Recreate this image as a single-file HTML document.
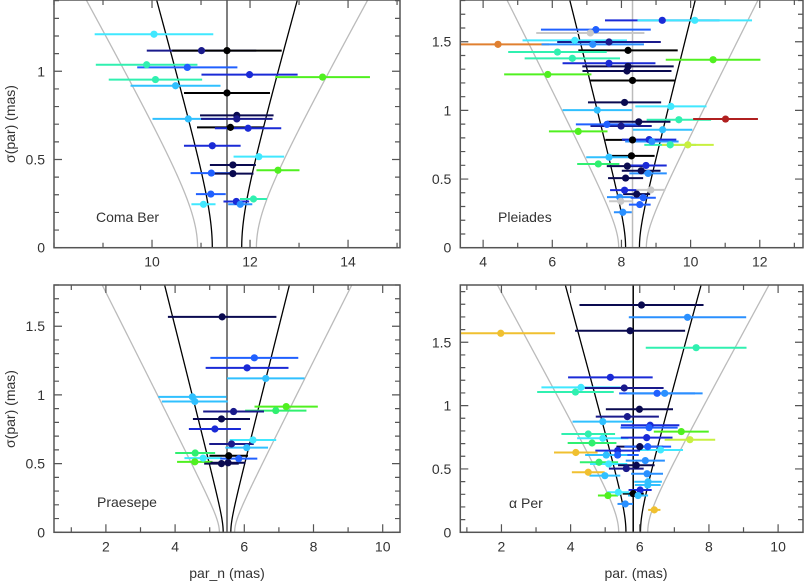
<!DOCTYPE html>
<html><head><meta charset="utf-8"><style>
html,body{margin:0;padding:0;background:#fff}
svg{display:block}
text{font-family:"Liberation Sans","DejaVu Sans",sans-serif;fill:#333}
</style></head><body>
<svg id="chart" width="806" height="582" viewBox="0 0 806 582" xmlns="http://www.w3.org/2000/svg">
<text x="0" y="0" font-size="14" text-anchor="middle" transform="translate(15,124) rotate(-90)">σ(par) (mas)</text>
<text x="0" y="0" font-size="14" text-anchor="middle" transform="translate(15,409) rotate(-90)">σ(par) (mas)</text>
<text x="227" y="578" font-size="14" text-anchor="middle">par_n (mas)</text>
<text x="636" y="578" font-size="14" text-anchor="middle">par. (mas)</text>
</svg>
<script>
// Colour palette
const K='#000000',N='#0a0a50',NB='#1a1a8c',B='#1a2ad6',B2='#2060ff',LB='#2a90ff',CB='#30c0ff',C='#40e8ff',CG='#30f0b0',G='#30f070',G2='#50f020',YG='#c8f040',GOLD='#f0c030',OR='#e08030',R='#b02020',GR='#c8c8c8';

// Coma Ber
const comaX=[10.04,11.01,11.53,9.89,10.72,11.99,13.48,10.07,10.48,11.53,10.74,11.73,11.73,11.6,11.96,11.23,12.18,11.65,12.57,11.21,11.65,11.2,12.07,11.72,11.8,11.05];
const comaSig=[1.21,1.117,1.117,1.037,1.022,0.981,0.967,0.953,0.918,0.877,0.73,0.75,0.73,0.682,0.677,0.578,0.516,0.469,0.439,0.423,0.42,0.304,0.276,0.262,0.246,0.246];
const comaCol=[C,NB,K,CG,B2,B,G2,CG,CB,K,CB,N,NB,K,B,B,C,N,G2,B2,N,B2,CG,B,LB,C];
// Pleiades
const pleiX=[9.18,10.12,7.26,7.1,4.43,6.65,7.64,7.17,8.19,6.15,6.58,10.65,7.64,8.19,8.16,5.87,8.32,8.09,9.43,7.3,9.66,11.01,8.5,7.99,7.58,9.19,6.75,8.32,8.8,8.88,9.41,9.92,8.29,7.64,7.33,8.17,8.71,8.57,8.77,8.12,8.09,8.85,8.44,7.95,8.63,7.98,8.53,8.04];
const pleiSig=[1.656,1.656,1.588,1.564,1.481,1.51,1.498,1.481,1.437,1.425,1.379,1.369,1.343,1.321,1.287,1.262,1.218,1.058,1.029,1.002,0.932,0.937,0.917,0.886,0.898,0.859,0.847,0.785,0.787,0.773,0.749,0.749,0.669,0.659,0.61,0.594,0.599,0.56,0.541,0.507,0.419,0.421,0.39,0.368,0.364,0.338,0.314,0.258];
const pleiCol=[B,C,B2,GR,OR,C,NB,LB,K,CG,CG,G2,B,N,N,G2,K,N,C,CB,CG,R,N,NB,B2,CB,G2,K,B,LB,CG,YG,K,CB,G,N,B,N,LB,N,B,GR,N,LB,B2,GR,B2,LB];
// Praesepe
const praeX=[5.36,6.29,6.08,6.62,4.5,4.57,7.21,6.91,5.69,5.34,5.15,6.25,5.63,6.07,4.58,5.55,4.81,5.84,4.57,5.53,5.34];
const praeSig=[1.568,1.27,1.197,1.12,0.986,0.952,0.915,0.886,0.879,0.825,0.752,0.672,0.643,0.616,0.577,0.557,0.54,0.536,0.513,0.506,0.5];
const praeCol=[N,B2,B,CB,CB,CB,G2,G,NB,N,B,C,NB,CB,G,K,C,B2,G2,N,N];
// alpha Per
const aperX=[6.05,7.38,1.98,5.72,7.63,5.15,4.3,5.55,4.14,6.5,6.72,5.99,5.64,4.93,6.3,6.27,7.2,4.51,4.93,6.2,7.45,4.62,6.0,6.23,6.6,5.36,4.15,5.36,5.03,6.16,4.82,5.1,5.9,5.61,4.51,6.21,4.99,6.24,6.23,6.01,5.81,5.38,5.08,5.95,5.58,6.42];
const aperSig=[1.794,1.697,1.571,1.591,1.457,1.223,1.144,1.139,1.107,1.097,1.097,0.971,0.913,0.874,0.845,0.826,0.795,0.776,0.742,0.747,0.731,0.705,0.676,0.676,0.65,0.645,0.63,0.61,0.61,0.566,0.553,0.539,0.529,0.503,0.474,0.462,0.447,0.399,0.373,0.334,0.305,0.316,0.29,0.29,0.224,0.177];
const aperCol=[N,LB,GOLD,N,CG,B,C,NB,CG,B2,LB,N,NB,CB,B,B2,G2,CG,C,B,YG,G,N,B2,C,B,GOLD,B2,CB,LB,G,C,N,NB,GOLD,LB,CB,CB,CB,B,K,C,G2,CB,LB,GOLD];

const panels=[
 {name:'coma-ber',label:'Coma Ber',xs:comaX,ys:comaSig,cs:comaCol,mean:11.53,a:0.3,meanCol:'#555',
  L:54,R:400,T:0,Bm:247.7,x0:8,x1:15.06,y1:1.404,xMaj:[10,12,14],xMin:1,yMaj:[0,0.5,1],yLab:['0','0.5','1'],lx:96,ly:222},
 {name:'pleiades',label:'Pleiades',xs:pleiX,ys:pleiSig,cs:pleiCol,mean:8.32,a:0.2,meanCol:'#bbb',
  L:460.3,R:803,T:0,Bm:247.7,x0:3.34,x1:13.25,y1:1.804,xMaj:[4,6,8,10,12],xMin:1,yMaj:[0,0.5,1,1.5],yLab:['0','0.5','1','1.5'],lx:498,ly:222},
 {name:'praesepe',label:'Praesepe',xs:praeX,ys:praeSig,cs:praeCol,mean:5.5,a:0.11,meanCol:'#555',
  L:54,R:400,T:285,Bm:532.3,x0:0.5,x1:10.5,y1:1.8,xMaj:[2,4,6,8,10],xMin:1,yMaj:[0,0.5,1,1.5],yLab:['0','0.5','1','1.5'],lx:97,ly:507},
 {name:'alpha-per',label:'α Per',xs:aperX,ys:aperSig,cs:aperCol,mean:5.81,a:0.21,meanCol:'#000',
  L:460.3,R:803,T:285,Bm:532.3,x0:0.81,x1:10.72,y1:1.952,xMaj:[2,4,6,8,10],xMin:1,yMaj:[0,0.5,1,1.5],yLab:['0','0.5','1','1.5'],lx:509,ly:508}
];

const NS='http://www.w3.org/2000/svg';
const svg=document.getElementById('chart');
function mk(tag,attrs,parent){const e=document.createElementNS(NS,tag);for(const k in attrs)e.setAttribute(k,attrs[k]);(parent||svg).appendChild(e);return e;}

panels.forEach(p=>{
  const g=mk('g',{});
  
  
  const clipId='clip-'+p.name;
  const cp=mk('clipPath',{id:clipId},g);
  mk('rect',{x:p.L,y:p.T,width:p.R-p.L,height:p.Bm-p.T},cp);
  const sx=v=>p.L+(v-p.x0)/(p.x1-p.x0)*(p.R-p.L);
  const sy=v=>p.Bm-v/p.y1*(p.Bm-p.T);
  const plot=mk('g',{'clip-path':'url(#'+clipId+')'},g);
  // envelope curves
  [[2,'#bbbbbb','outer-envelope'],[1,'#000','inner-envelope']].forEach(([f,col,nm])=>{
    [-1,1].forEach(sg=>{
      let d='';
      for(let i=0;i<=120;i++){const s=p.y1*i/120;const x=p.mean+sg*f*Math.sqrt(p.a*p.a+s*s);d+=(i?'L':'M')+sx(x).toFixed(2)+','+sy(s).toFixed(2);}
      const pa=mk('path',{d:d,fill:'none',stroke:col,'stroke-width':1.3},plot);
      
      
    });
  });
  const ml=mk('line',{x1:sx(p.mean),x2:sx(p.mean),y1:p.T,y2:p.Bm,stroke:p.meanCol,'stroke-width':1.5},plot);
  
  
  // data
  p.xs.forEach((x,i)=>{
    const s=p.ys[i];
    const bar=mk('line',{x1:sx(x-s),x2:sx(x+s),y1:sy(s),y2:sy(s),stroke:p.cs[i],'stroke-width':2},plot);
    
    
  });
  p.xs.forEach((x,i)=>{
    const s=p.ys[i];
    const dot=mk('circle',{cx:sx(x),cy:sy(s),r:3.6,fill:p.cs[i]},plot);
    
    
  });
  // frame
  const fr=mk('rect',{x:p.L,y:p.T,width:p.R-p.L,height:p.Bm-p.T,fill:'none',stroke:'#555','stroke-width':1.5},g);
  
  
  // ticks
  let td='';
  for(let v=Math.ceil(p.x0/p.xMin)*p.xMin;v<=p.x1;v+=p.xMin){
    const X=sx(v);const maj=p.xMaj.some(m=>Math.abs(m-v)<1e-6);const len=maj?8:5;
    td+='M'+X+','+p.Bm+'v'+(-len)+'M'+X+','+p.T+'v'+len;
  }
  for(let k=0;k*0.1<=p.y1+1e-9;k++){
    const v=k*0.1;const Y=sy(v);const maj=(k%5===0);const len=maj?8:5;
    td+='M'+p.L+','+Y+'h'+len+'M'+p.R+','+Y+'h'+(-len);
  }
  const tk=mk('path',{d:td,stroke:'#555','stroke-width':1.2,fill:'none'},g);
  
  
  p.xMaj.forEach(v=>{
    const t=mk('text',{x:sx(v),y:p.Bm+19,'font-size':14,'text-anchor':'middle'},g);
    t.textContent=String(v);
    
    
  });
  p.yMaj.forEach((v,i)=>{
    const t=mk('text',{x:p.L-9,y:sy(v)+5,'font-size':14,'text-anchor':'end'},g);
    t.textContent=p.yLab[i];
    
    
  });
  const lb=mk('text',{x:p.lx,y:p.ly,'font-size':14},g);
  lb.textContent=p.label;
  
  
});
</script>
</body></html>
